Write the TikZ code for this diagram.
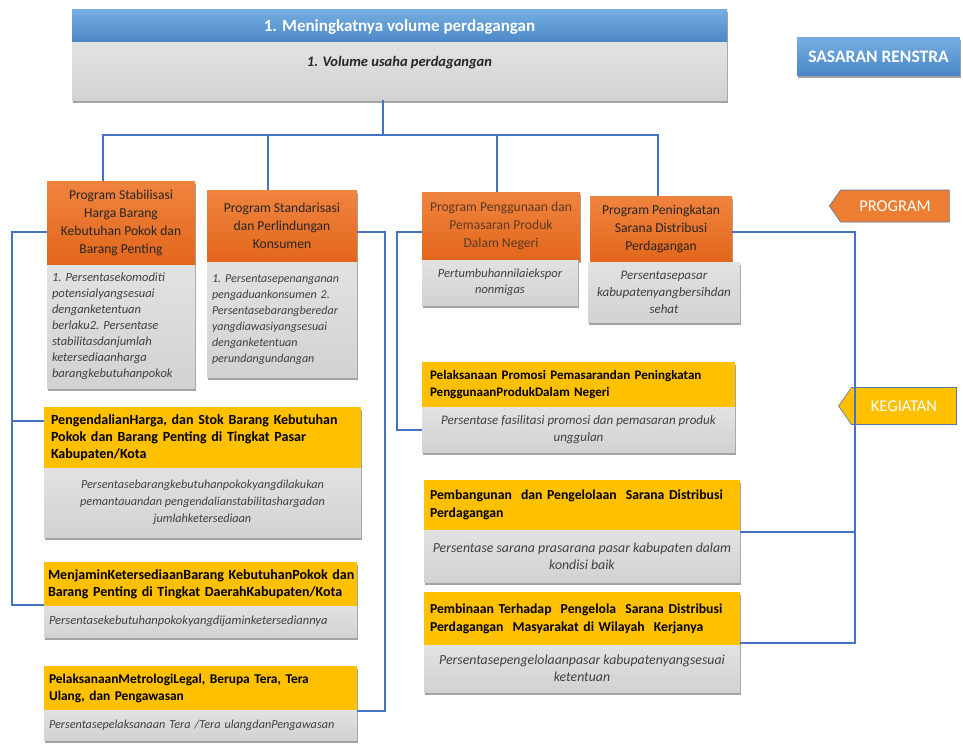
\documentclass[tikz,border=0pt]{standalone}
\usepackage{fontspec}
\setmainfont{Carlito}
\usetikzlibrary{shadows,shapes.symbols,calc}
\definecolor{lnblue}{HTML}{4472C4}
\definecolor{hdtop}{HTML}{74AEE0}
\definecolor{hdbot}{HTML}{4A86C8}
\definecolor{prtop}{HTML}{F0843F}
\definecolor{prbot}{HTML}{E2661B}
\definecolor{tagor}{HTML}{ED7D31}
\definecolor{kgfill}{HTML}{FFC000}
\definecolor{grtop}{HTML}{E2E2E2}
\definecolor{grbot}{HTML}{D2D2D2}
\definecolor{txdark}{HTML}{262626}
\definecolor{txgray}{HTML}{404040}
\begin{document}
\begin{tikzpicture}[x=1pt,y=-1pt,
  shad/.style={drop shadow={shadow xshift=1pt,shadow yshift=-2.5pt,opacity=.45,fill=black!80}},
  box/.style={anchor=north west,inner sep=3pt,outer sep=0pt,shad},
  hdr/.style={box,top color=hdtop,bottom color=hdbot,text=white},
  prog/.style={box,top color=prtop,bottom color=prbot,text=txdark,align=center,
    font=\fontsize{13.6}{18}\selectfont},
  info/.style={box,top color=grtop,bottom color=grbot,text=txgray,
    font=\fontsize{12.5}{16}\selectfont\itshape},
  keg/.style={box,fill=kgfill,text=black,align=left,inner xsep=7pt,
    font=\fontsize{14}{17}\selectfont\bfseries},
  link/.style={draw=lnblue,line width=2.2pt},
  tag/.style={signal,signal to=west,signal pointer angle=110,draw=lnblue!70!gray,
    line width=.6pt,text=white,font=\fontsize{16.5}{18}\selectfont,inner sep=0pt}]
\useasboundingbox (0,0) rectangle (963,752);

% --- goal box ---------------------------------------------------------
\node[hdr,minimum width=655pt,minimum height=33pt,
  font=\fontsize{17}{18}\selectfont\bfseries] (goal) at (72,10)
  {1. Meningkatnya volume perdagangan};
\node[box,top color=grtop,bottom color=grbot,minimum width=655pt,minimum height=57pt,
  text depth=21pt,font=\fontsize{14.5}{16}\selectfont\bfseries\itshape,text=txdark]
  (goalind) at (72,43) {1. Volume usaha perdagangan};

\node[hdr,minimum width=163pt,minimum height=37pt,
  font=\fontsize{17.5}{19}\selectfont\bfseries] (renstra) at (797,38) {SASARAN RENSTRA};

% --- programs -------------------------------------------------------------
\node[prog,minimum width=148pt,minimum height=84pt] (p1) at (47,181)
  {Program Stabilisasi\\Harga Barang\\Kebutuhan Pokok dan\\Barang Penting};
\node[info,minimum width=148pt,minimum height=123pt,text width=138pt,align=left] (g1) at (47,265)
  {1.\ Persentasekomoditi\\potensialyangsesuai\\denganketentuan\\berlaku2.\ Persentase\\stabilitasdanjumlah\\ketersediaanharga\\barangkebutuhanpokok};

\node[prog,minimum width=150pt,minimum height=72pt] (p2) at (207,190)
  {Program Standarisasi\\dan Perlindungan\\Konsumen};
\node[info,minimum width=150pt,minimum height=115pt,text width=140pt,align=left,
  font=\fontsize{12}{16}\selectfont\itshape] (g2) at (207,262)
  {1.\ Persentasepenanganan\\pengaduankonsumen 2.\\Persentasebarangberedar\\yangdiawasiyangsesuai\\denganketentuan\\perundangundangan};

\node[prog,minimum width=158pt,minimum height=68pt,text=txdark!70!prbot] (p3) at (422,192)
  {Program Penggunaan dan\\Pemasaran Produk\\Dalam Negeri};
\node[info,minimum width=156pt,minimum height=45pt,align=center] (g3) at (422,260)
  {Pertumbuhannilaiekspor\\nonmigas};

\node[prog,minimum width=142pt,minimum height=66pt] (p4) at (590,196)
  {Program Peningkatan\\Sarana Distribusi\\Perdagangan};
\node[info,minimum width=152pt,minimum height=60pt,align=center,
  font=\fontsize{13}{17}\selectfont\itshape] (g4) at (588,262)
  {Persentasepasar\\kabupatenyangbersihdan\\sehat};

% --- activities, left column ------------------------------------------
\node[keg,minimum width=317pt,minimum height=61pt,text width=303pt] (k1) at (44,407)
  {PengendalianHarga, dan Stok Barang Kebutuhan\\Pokok dan Barang Penting di Tingkat Pasar\\Kabupaten/Kota};
\node[info,minimum width=317pt,minimum height=69pt,align=center,
  font=\fontsize{12.2}{17}\selectfont\itshape] (h1) at (44,468)
  {Persentasebarangkebutuhanpokokyangdilakukan\\pemantauandan pengendalianstabilitashargadan\\jumlahketersediaan};

\node[keg,minimum width=313pt,minimum height=44pt,text width=305pt,inner xsep=4pt] (k2) at (44,562)
  {\mbox{MenjaminKetersediaanBarang KebutuhanPokok dan}\\Barang Penting di Tingkat DaerahKabupaten/Kota};
\node[info,minimum width=313pt,minimum height=31pt,text width=303pt,align=left,inner xsep=5pt] (h2) at (44,606)
  {Persentasekebutuhanpokokyangdijaminketersediannya};

\node[keg,minimum width=313pt,minimum height=44pt,text width=303pt,inner xsep=5pt,
  font=\fontsize{13.4}{17}\selectfont\bfseries] (k3) at (44,666)
  {PelaksanaanMetrologiLegal, Berupa Tera, Tera\\Ulang, dan Pengawasan};
\node[info,minimum width=313pt,minimum height=30pt,text width=303pt,align=left,inner xsep=5pt,
  font=\fontsize{12.2}{14}\selectfont\itshape] (h3) at (44,710)
  {Persentasepelaksanaan Tera /Tera ulangdanPengawasan};

% --- activities, right column -----------------------------------------
\node[keg,minimum width=313pt,minimum height=45pt,text width=297pt,inner xsep=8pt,
  font=\fontsize{13}{17}\selectfont\bfseries] (k4) at (422,362)
  {Pelaksanaan Promosi Pemasarandan Peningkatan\\PenggunaanProdukDalam Negeri};
\node[info,minimum width=313pt,minimum height=45pt,align=center,
  font=\fontsize{13}{17}\selectfont\itshape] (h4) at (422,407)
  {Persentase fasilitasi promosi dan pemasaran produk\\unggulan};

\node[keg,minimum width=316pt,minimum height=50pt,text width=304pt,inner xsep=6pt,
  font=\fontsize{13.7}{18}\selectfont\bfseries] (k5) at (424,480)
  {Pembangunan\ \ dan Pengelolaan\ \ Sarana Distribusi\\Perdagangan};
\node[info,minimum width=316pt,minimum height=52pt,align=center,
  font=\fontsize{13.8}{17}\selectfont\itshape] (h5) at (424,530)
  {Persentase sarana prasarana pasar kabupaten dalam\\kondisi baik};

\node[keg,minimum width=316pt,minimum height=53pt,text width=304pt,inner xsep=6pt,
  font=\fontsize{13.7}{18}\selectfont\bfseries] (k6) at (424,592)
  {Pembinaan Terhadap\ \ Pengelola\ \ Sarana Distribusi\\Perdagangan\ \ Masyarakat di Wilayah\ \ Kerjanya};
\node[info,minimum width=316pt,minimum height=47pt,align=center,
  font=\fontsize{13.8}{17}\selectfont\itshape] (h6) at (424,645)
  {Persentasepengelolaanpasar kabupatenyangsesuai\\ketentuan};

% --- level tags -----------------------------------------------------------
\node[tag,fill=tagor,minimum width=120pt,minimum height=32pt] (tprog) at (895,206) {PROGRAM};
\node[tag,fill=kgfill,minimum width=118pt,minimum height=37pt] (tkeg) at (904,406) {KEGIATAN};

% --- connectors -----------------------------------------------------------
\coordinate (hub) at (383,135);
\coordinate (d1) at (103,135);
\coordinate (d2) at (268,135);
\coordinate (d3) at (497,135);
\coordinate (d4) at (658,135);
\draw[link] (goalind.south -| hub) -- (hub);
\draw[link] (p1.north -| d1) -- (d1) -- (d4) -- (p4.north -| d4);
\draw[link] (p2.north -| d2) -- (d2);
\draw[link] (p3.north -| d3) -- (d3);

\coordinate (L1) at (12,232);
\coordinate (L2) at (12,421);
\coordinate (L3) at (12,605);
\draw[link] (p1.west |- L1) -- (L1) -- (L3) -- (k2.west |- L3);
\draw[link] (L2) -- (k1.west |- L2);

\coordinate (R1) at (385,232);
\coordinate (R2) at (385,711);
\draw[link] (p2.east |- R1) -- (R1) -- (R2) -- (k3.east |- R2);

\coordinate (M1) at (397,232);
\coordinate (M2) at (397,430);
\draw[link] (p3.west |- M1) -- (M1) -- (M2) -- (h4.west |- M2);

\coordinate (Q1) at (855,232);
\coordinate (Q2) at (855,532);
\coordinate (Q3) at (855,643);
\draw[link] (p4.east |- Q1) -- (Q1) -- (Q3) -- (k6.east |- Q3);
\draw[link] (Q2) -- (k5.east |- Q2);
\end{tikzpicture}
\end{document}
